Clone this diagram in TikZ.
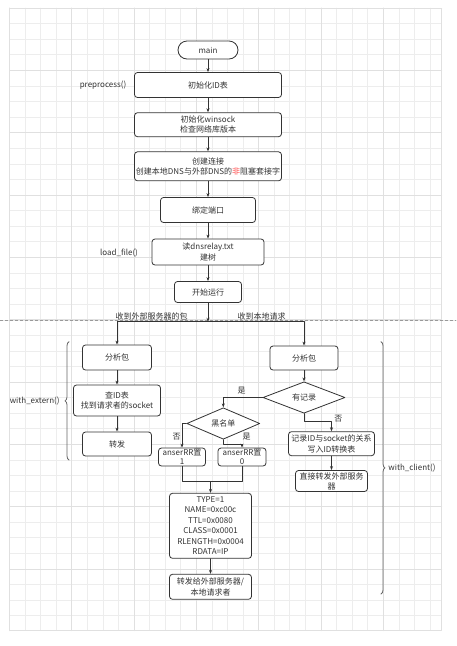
\documentclass[tikz,border=0pt]{standalone}
\usepackage{fontspec}
\setmainfont{Noto Sans CJK SC}
\usetikzlibrary{shapes.geometric,arrows.meta,decorations.pathreplacing}
\definecolor{ink}{HTML}{333333}
\tikzset{
	gridline/.style={draw=black!7, line width=0.5pt},
	gridmajor/.style={draw=black!12, line width=0.6pt},
	sep/.style={draw=black!40, dashed, dash pattern=on 3pt off 2pt, line width=0.6pt},
	box/.style={draw=ink, rounded corners=3pt, align=center, inner sep=1pt, line width=0.8pt, fill=white, text=ink},
	term/.style={box, rounded corners=9pt},
	dec/.style={diamond, draw=ink, inner sep=0pt, line width=0.8pt, fill=white, text=ink},
	lbl/.style={inner sep=0.5pt, text=ink},
	arr/.style={->, line width=0.7pt, draw=ink},
	ln/.style={line width=0.7pt, draw=ink},
	brc/.style={decorate, decoration={brace, amplitude=4pt}, draw=black!60, line width=0.8pt},
}
\begin{document}
\begin{tikzpicture}[x=1pt, y=-1pt, font=\fontsize{8}{10.5}\selectfont, line join=round, line cap=round, >={Stealth[length=4pt,width=3pt]}]
	\def\gs{15.58}
	\useasboundingbox[fill=white] (0,0) rectangle (456,646);
	% grid
	\foreach \i in {0,...,27}
		\draw[gridline] ({9.3+\i*\gs},8) -- ++(0,622.7);
	\foreach \j in {0,...,39}
		\draw[gridline] (9.3,{8+\j*\gs}) -- ++(432.4,0);
	\foreach \i in {0,4,...,24}
		\draw[gridmajor] ({9.3+\i*\gs},8) -- ++(0,622.7);
	\foreach \j in {0,4,...,36}
		\draw[gridmajor] (9.3,{8+\j*\gs}) -- ++(432.4,0);
	\draw[gridmajor] (9.3,8) rectangle (441.7,630.7);
	\draw[sep] (0,320) -- (456,320);
	% main line
	\node[term, minimum width=60pt, minimum height=18pt] (main) at (208,50) {main};
	\node[box, minimum width=147pt, minimum height=25pt] (initid) at (208,85) {初始化ID表};
	\node[box, minimum width=147pt, minimum height=24pt] (winsock) at (208,124.7) {初始化winsock\\检查网络库版本};
	\node[box, minimum width=147pt, minimum height=29pt] (conn) at (208,166.3) {创建连接\\创建本地DNS与外部DNS的{\color{red!70}非}阻塞套接字};
	\node[box, minimum width=95pt, minimum height=25pt] (bind) at (208,210) {绑定端口};
	\node[box, minimum width=112pt, minimum height=26pt] (load) at (208,252) {读dnsrelay.txt\\建树};
	\node[box, minimum width=67pt, minimum height=21pt] (run) at (208,292) {开始运行};
	\node[lbl] (pre) at (103,85) {preprocess()};
	\node[lbl] (lf) at (119,252.7) {load\_file()};
	\coordinate (fork) at (208,321.7);
	% with_extern
	\node[box, minimum width=69pt, minimum height=25pt] (lpkt) at (117,357.5) {分析包};
	\node[box, minimum width=87pt, minimum height=31pt] (lookup) at (117,400.5) {查ID表\\找到请求者的socket};
	\node[box, minimum width=69pt, minimum height=24pt] (fwd) at (117,444) {转发};
	% with_client
	\node[box, minimum width=68pt, minimum height=24pt] (rpkt) at (304,358) {分析包};
	\node[dec, minimum width=82pt, minimum height=25pt] (hasrec) at (304,397.5) {有记录};
	\node[dec, minimum width=73pt, minimum height=25pt] (black) at (223.3,423.5) {黑名单};
	\node[box, minimum width=86pt, minimum height=24pt] (record) at (331.5,443.7) {记录ID与socket的关系\\写入ID转换表};
	\node[box, minimum width=72pt, minimum height=21pt, inner sep=0pt, font=\fontsize{8}{10}\selectfont] (direct) at (331.5,481) {直接转发外部服务\\器};
	\node[box, minimum width=47pt, minimum height=18pt, inner sep=0pt, font=\fontsize{8}{9}\selectfont] (setone) at (182,457) {anserRR置\\1};
	\node[box, minimum width=48pt, minimum height=18pt, inner sep=0pt, font=\fontsize{8}{9}\selectfont] (setzero) at (242,457) {anserRR置\\0};
	\coordinate (merge) at (210.5,481.7);
	\node[box, minimum width=82pt, minimum height=65pt] (rr) at (210.5,525.8) {TYPE=1\\NAME=0xc00c\\TTL=0x0080\\CLASS=0x0001\\RLENGTH=0x0004\\RDATA=IP};
	\node[box, minimum width=82pt, minimum height=25pt] (reply) at (210.5,586.8) {转发给外部服务器/\\本地请求者};
	% connectors
	\foreach \a/\b in {main/initid,initid/winsock,winsock/conn,conn/bind,bind/load,load/run,lpkt/lookup,lookup/fwd,rpkt/hasrec,record/direct,rr/reply}
		\draw[arr] (\a) -- (\b);
	\draw[arr] (run) -- (fork);
	\draw[arr] (fork) -| (lpkt.north);
	\draw[arr] (fork) -| (rpkt.north);
	\draw[arr] (hasrec.west) -| (black.north);
	\draw[arr] (hasrec.south) -- ++(0,7.7) -| (record.north);
	\draw[arr] (black.west) -| (setone.north);
	\draw[arr] (black.south) -- ++(0,5) -| (setzero.north);
	\draw[ln] (setone.south) |- (merge) -| (setzero.south);
	\draw[arr] (merge) -- (rr);
	\node[lbl, anchor=south] (fromext) at (151.7,321) {收到外部服务器的包};
	\node[lbl, anchor=south] (fromcli) at (261.7,321) {收到本地请求};
	\node[lbl] (yes1) at (241.7,391) {是};
	\node[lbl] (no1) at (338.3,419) {否};
	\node[lbl] (no2) at (176.7,437) {否};
	\node[lbl] (yes2) at (246.5,437) {是};
	% braces
	\draw[brc] (69,460) -- (69,341.7) node[midway, left=9pt, inner sep=0pt, text=ink] (ext) {with\_extern()};
	\draw[brc] (381,341.7) -- (381,594) node[midway, right=7pt, inner sep=0pt, text=ink] (cli) {with\_client()};
\end{tikzpicture}
\end{document}
